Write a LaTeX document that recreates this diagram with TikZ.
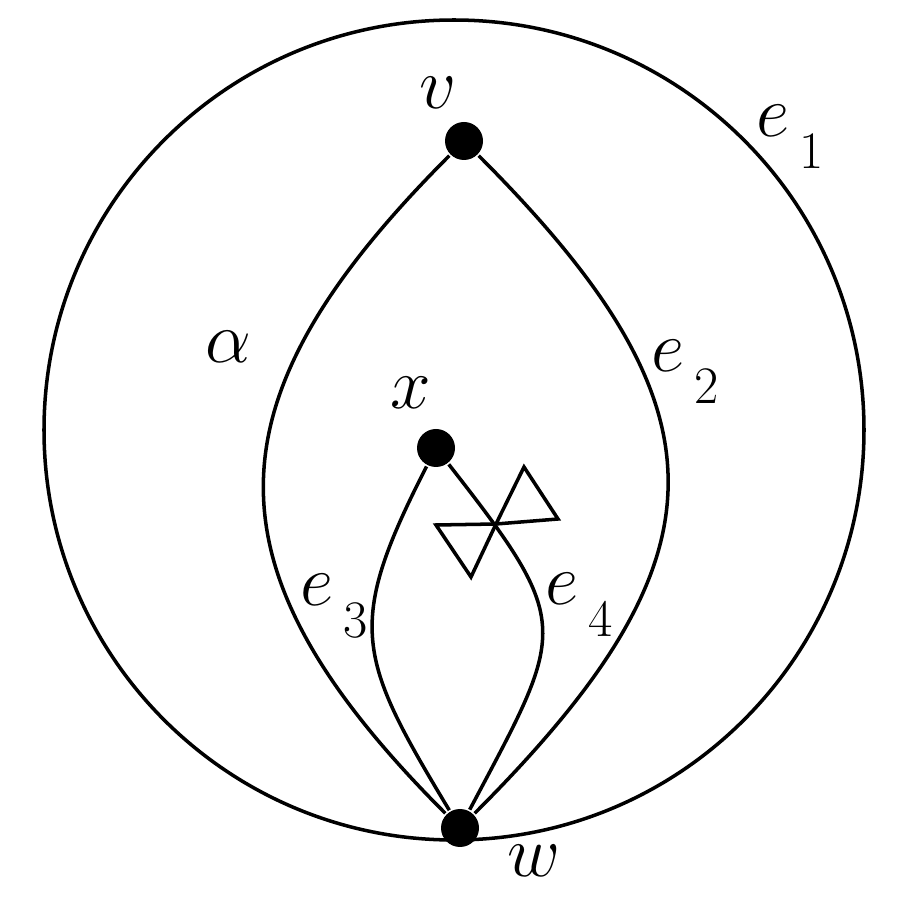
\documentclass[tikz,border=0pt]{standalone}
\usepackage{tikz}
\usetikzlibrary{positioning}

\newcommand{\elab}[1]{$e$\hspace{0.12em}\raisebox{-0.42em}{\fontsize{15}{18}\selectfont #1}}

\begin{document}
\begin{tikzpicture}[line width=1pt,
  dot/.style={circle, fill=black, inner sep=0pt, minimum size=0.38cm},
  lbl/.style={inner sep=0pt, font=\fontsize{22}{26}\selectfont}]
\useasboundingbox (0,0) rectangle (9,9);
\coordinate (o) at (4.54,4.70);
\draw (o) circle (4.1);

\node (v) [dot] at (4.64,7.59) {};
\node (x) [dot] at (4.36,4.52) {};
\node (w) [dot] at (4.60,0.72) {};

\draw (v) .. controls (2.04,4.99) and (2.00,3.32) .. (w);
\draw (v) .. controls (7.34,4.89) and (7.30,3.42) .. (w);
\draw (x) .. controls (3.45,2.74) and (3.57,2.43) .. (w);
\draw (x) .. controls (5.75,2.74) and (5.66,2.72) .. (w);

% bow tie on e4
\coordinate (cr) at (4.96,3.76);
\draw (cr) -- ++(0.28,0.57) -- ++(0.34,-0.52) -- cycle;
\draw (cr) -- ++(-0.60,-0.01) -- ++(0.35,-0.52) -- cycle;

\node (lv) [lbl] at (4.38,8.07) {$v$};
\node (le1) [lbl] at (7.90,7.63) {\elab{1}};
\node (la) [lbl] at (2.28,5.53) {$\alpha$};
\node (le2) [lbl] at (6.85,5.28) {\elab{2}};
\node (lx) [lbl] at (4.11,5.07) {$x$};
\node (le3) [lbl] at (3.34,2.94) {\elab{3}};
\node (le4) [lbl] at (5.79,2.95) {\elab{4}};
\node (lw) [lbl] at (5.34,0.39) {$w$};
\end{tikzpicture}
\end{document}
